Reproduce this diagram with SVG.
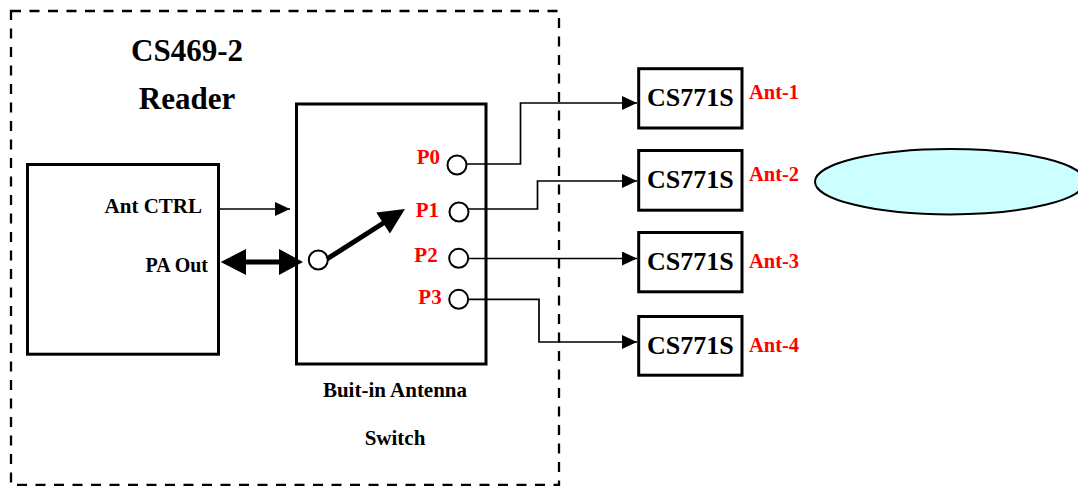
<svg xmlns="http://www.w3.org/2000/svg" width="1078" height="486" viewBox="0 0 1078 486">
<style>
.t{font-family:"Liberation Serif","Times New Roman",serif;font-weight:bold;fill:#000}
.r{fill:#ff0000}
.box{fill:#fff;stroke:#000;stroke-width:3}
.port{fill:#fff;stroke:#000;stroke-width:2}
.wire{fill:none;stroke:#000;stroke-width:1.7}
</style>
<defs>
<marker id="ah" markerUnits="userSpaceOnUse" markerWidth="16" markerHeight="16" refX="15" refY="7" orient="auto">
<path d="M0,0 L15,7 L0,14 z" fill="#000"/>
</marker>
</defs>
<rect width="1078" height="486" fill="#fff"/>
<g id="reader-frame">
<rect x="11" y="11" width="548" height="474" fill="none" stroke="#000" stroke-width="2.3" stroke-dasharray="10 8.5"/>
<text class="t" x="187" y="61" font-size="31" text-anchor="middle">CS469-2</text>
<text class="t" x="187" y="109" font-size="31" text-anchor="middle">Reader</text>
</g>
<g id="ctrl-box">
<rect class="box" x="27.5" y="164.5" width="191" height="189.7"/>
<text class="t" x="202" y="213" font-size="21" text-anchor="end">Ant CTRL</text>
<text class="t" x="208" y="271.5" font-size="20" text-anchor="end">PA Out</text>
</g>
<g id="switch">
<rect class="box" x="296.5" y="104" width="189.5" height="260"/>
<circle class="port" cx="318.3" cy="260" r="9.5"/>
<circle class="port" cx="457" cy="165" r="9.5"/>
<circle class="port" cx="459" cy="212" r="9.5"/>
<circle class="port" cx="458.7" cy="258.3" r="9.5"/>
<circle class="port" cx="458.7" cy="299.3" r="9.5"/>
<line x1="327" y1="259" x2="385" y2="222" stroke="#000" stroke-width="5"/>
<polygon points="405,209 376.3,212.5 389.9,233.5" fill="#000"/>
<text class="t r" x="440" y="164" font-size="21" text-anchor="end">P0</text>
<text class="t r" x="439" y="217" font-size="21" text-anchor="end">P1</text>
<text class="t r" x="437.7" y="262" font-size="21" text-anchor="end">P2</text>
<text class="t r" x="441.7" y="304" font-size="21" text-anchor="end">P3</text>
<text class="t" x="395" y="396.5" font-size="21" text-anchor="middle">Buit-in Antenna</text>
<text class="t" x="395" y="445" font-size="21" text-anchor="middle">Switch</text>
</g>
<g id="ant1">
<rect class="box" x="638.7" y="68.7" width="103.3" height="59.3"/>
<text class="t" x="690.3" y="106" font-size="26" text-anchor="middle">CS771S</text>
<text class="t r" x="749" y="98.5" font-size="20.5">Ant-1</text>
</g>
<g id="ant2">
<rect class="box" x="638.7" y="150.5" width="103.3" height="59.7"/>
<text class="t" x="690.3" y="188.3" font-size="26" text-anchor="middle">CS771S</text>
<text class="t r" x="749" y="181" font-size="20.5">Ant-2</text>
</g>
<g id="ant3">
<rect class="box" x="638.7" y="232.5" width="103.3" height="59.3"/>
<text class="t" x="690.3" y="269.8" font-size="26" text-anchor="middle">CS771S</text>
<text class="t r" x="749" y="268.3" font-size="20.5">Ant-3</text>
</g>
<g id="ant4">
<rect class="box" x="638.7" y="316.5" width="103.3" height="58.7"/>
<text class="t" x="690.3" y="353.5" font-size="26" text-anchor="middle">CS771S</text>
<text class="t r" x="749" y="352.3" font-size="20.5">Ant-4</text>
</g>
<g id="tag">
<ellipse cx="950" cy="181.7" rx="135" ry="32.7" fill="#ccffff" stroke="#000" stroke-width="2"/>
</g>
<g id="connectors">
<path class="wire" d="M220,209 H290" marker-end="url(#ah)"/>
<line x1="245" y1="262" x2="280" y2="262" stroke="#000" stroke-width="5"/>
<polygon points="220.7,262 246,249 246,275" fill="#000"/>
<polygon points="303,262 279,249 279,275" fill="#000"/>
<path class="wire" d="M466.5,164 H520.5 V103 H637" marker-end="url(#ah)"/>
<path class="wire" d="M468.5,209 H537.5 V181 H637" marker-end="url(#ah)"/>
<path class="wire" d="M468.2,258.5 H637" marker-end="url(#ah)"/>
<path class="wire" d="M468.2,299.3 H539 V342 H637" marker-end="url(#ah)"/>
</g>
</svg>
